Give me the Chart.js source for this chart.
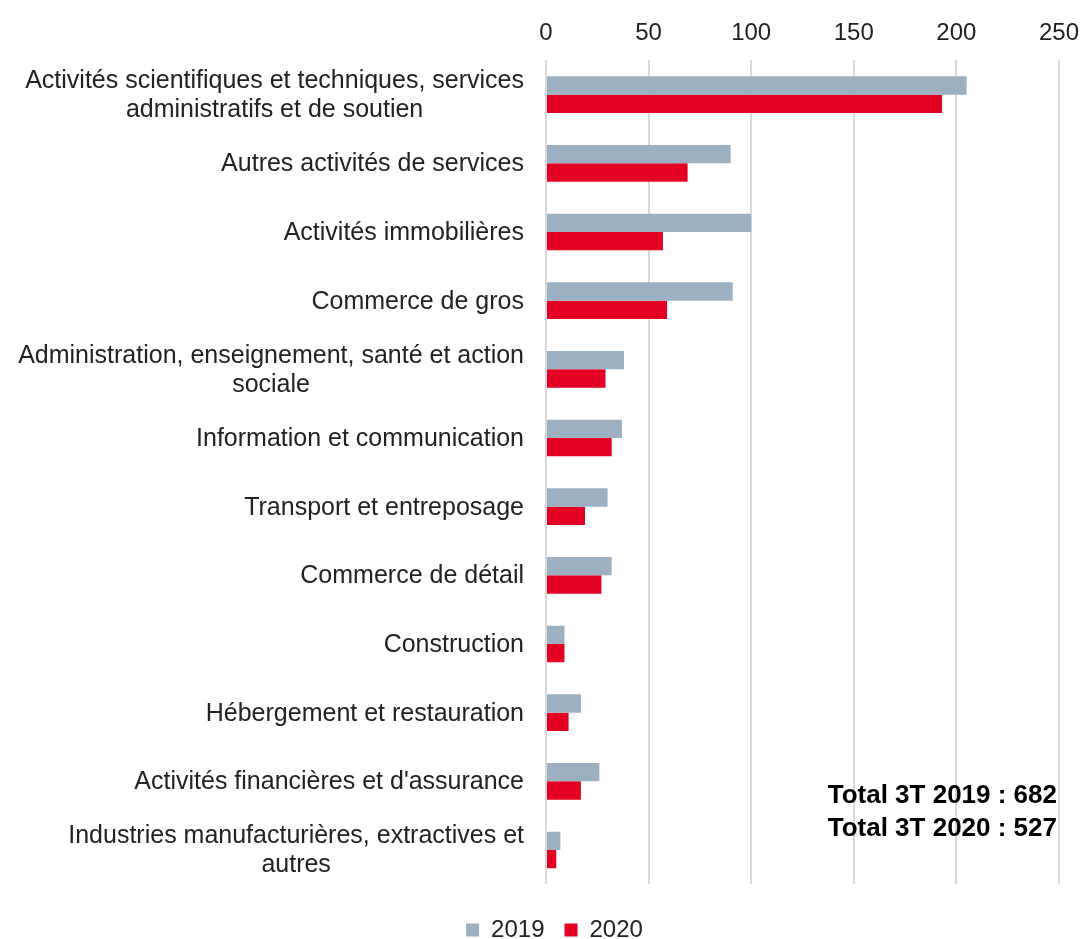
<!DOCTYPE html>
<html>
<head>
<meta charset="utf-8">
<script src="https://cdn.jsdelivr.net/npm/chart.js@4/dist/chart.umd.min.js"></script>
<style>
  html, body { margin: 0; padding: 0; background: #ffffff; overflow: hidden; }
  #wrap { position: relative; width: 1080px; height: 939px; overflow: hidden; }
  #c { position: absolute; left: 0; top: 0; }
  #totals {
    position: absolute; right: 23px; top: 778px;
    font-family: "Liberation Sans", Arial, sans-serif; font-weight: bold;
    font-size: 26px; line-height: 33px; color: #000; text-align: right; white-space: pre;
  }
</style>
</head>
<body>
<div id="wrap">
  <canvas id="c" width="1080" height="952"></canvas>
  <div id="totals">Total 3T 2019 : 682
Total 3T 2020 : 527</div>
</div>
<script>
const categories = [
  ["Activités scientifiques et techniques, services", "administratifs et de soutien"],
  "Autres activités de services",
  "Activités immobilières",
  "Commerce de gros",
  ["Administration, enseignement, santé et action", "sociale"],
  "Information et communication",
  "Transport et entreposage",
  "Commerce de détail",
  "Construction",
  "Hébergement et restauration",
  "Activités financières et d'assurance",
  ["Industries manufacturières, extractives et", "autres"]
];
const values2019 = [205, 90, 100, 91, 38, 37, 30, 32, 9, 17, 26, 7];
const values2020 = [193, 69, 57, 59, 29, 32, 19, 27, 9, 11, 17, 5];
const seriesNames = ["2019", "2020"];
const xMin = 0, xMax = 250, xStep = 50;

const FONT = '"Liberation Sans", Arial, sans-serif';
const TEXT = '#222222';

const catLabels = {
  id: 'catLabels',
  afterDraw(chart) {
    const { ctx } = chart;
    const y = chart.scales.y;
    const right = 524;
    const lineH = 29;
    ctx.save();
    ctx.font = '25px ' + FONT;
    ctx.fillStyle = TEXT;
    ctx.textAlign = 'center';
    ctx.textBaseline = 'middle';
    categories.forEach((lab, i) => {
      const lines = Array.isArray(lab) ? lab : [lab];
      const w = Math.max(...lines.map(l => ctx.measureText(l).width));
      const cx = right - w / 2;
      const yc = y.getPixelForValue(i) + 1;
      lines.forEach((l, j) => {
        ctx.fillText(l, cx, yc + (j - (lines.length - 1) / 2) * lineH);
      });
    });
    ctx.restore();
  }
};

new Chart(document.getElementById('c'), {
  type: 'bar',
  data: {
    labels: categories,
    datasets: [
      { label: seriesNames[0], data: values2019, backgroundColor: '#9db0c1',
        categoryPercentage: 0.534, barPercentage: 1.0 },
      { label: seriesNames[1], data: values2020, backgroundColor: '#e30022',
        categoryPercentage: 0.534, barPercentage: 1.0 }
    ]
  },
  options: {
    indexAxis: 'y',
    responsive: false,
    animation: false,
    devicePixelRatio: 1,
    layout: { padding: { left: 50, right: 21, top: 0, bottom: 0 } },
    scales: {
      x: {
        position: 'top',
        min: xMin, max: xMax,
        ticks: { stepSize: xStep, padding: 1, color: TEXT, font: { family: FONT, size: 24, lineHeight: 2.2 } },
        grid: { color: '#d9d9d9', lineWidth: 2, drawTicks: false },
        border: { display: false },
        afterFit(s) { s.height = 60.3; }
      },
      xb: {
        type: 'linear',
        position: 'bottom',
        display: true,
        ticks: { display: false },
        grid: { display: false, drawTicks: false },
        border: { display: false },
        afterFit(s) { s.height = 13.7; }
      },
      y: {
        ticks: { display: false },
        grid: { display: false, drawTicks: false },
        border: { display: false },
        afterFit(s) { s.width = 496; }
      }
    },
    plugins: {
      legend: {
        position: 'bottom',
        labels: {
          boxWidth: 13, boxHeight: 13, padding: 20,
          color: TEXT, font: { family: FONT, size: 24 }
        }
      },
      tooltip: { enabled: false }
    }
  },
  plugins: [catLabels]
});
</script>
</body>
</html>
